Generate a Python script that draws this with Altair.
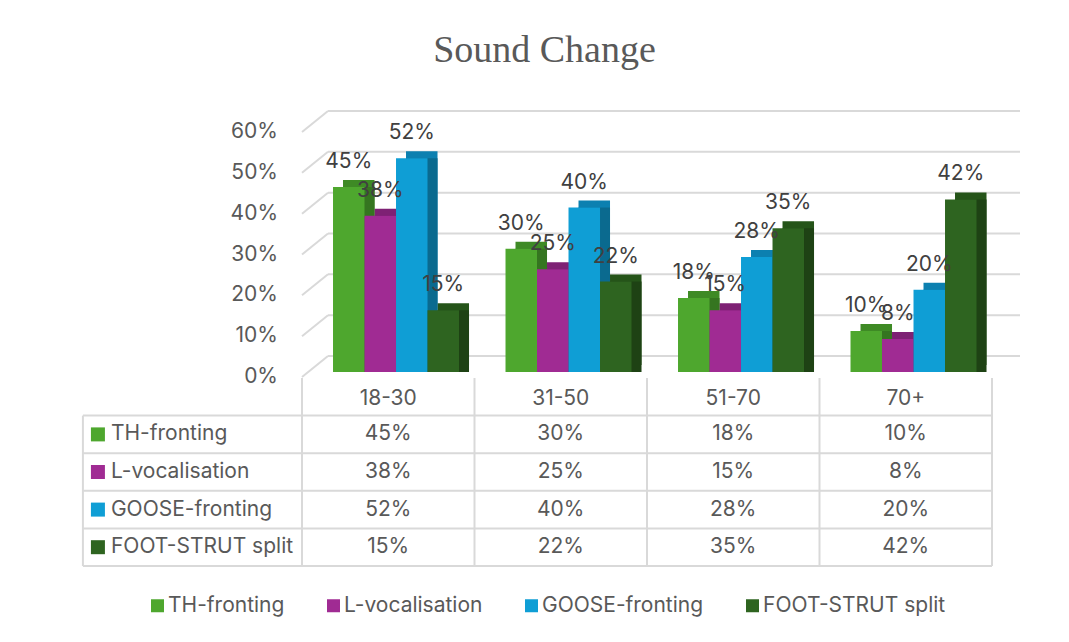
import altair as alt
import pandas as pd

# ---------------- data ----------------
categories = ["18-30", "31-50", "51-70", "70+"]
series_names = ["TH-fronting", "L-vocalisation", "GOOSE-fronting", "FOOT-STRUT split"]
th_fronting = [0.45, 0.30, 0.18, 0.10]
l_vocalisation = [0.38, 0.25, 0.15, 0.08]
goose_fronting = [0.52, 0.40, 0.28, 0.20]
foot_strut = [0.15, 0.22, 0.35, 0.42]
tick_values = [0.0, 0.1, 0.2, 0.3, 0.4, 0.5, 0.6]

# ---------------- styles ----------------
front_colors = ["#4EA72E", "#A02B93", "#0F9ED5", "#2E6420"]
top_colors = ["#3E8A25", "#7E2174", "#0C80B0", "#255419"]
side_colors = ["#357520", "#6A1A61", "#0A6A8F", "#1E4214"]
GRID = "#D9D9D9"
TXT = "#595959"
LBL = "#404040"
FONT = "Inter"
FS = 21

W, H, PAD_TOP = 1053, 556, 70
FRONT_X = [294, 984]
DEPTH_X = [304, 994]
BACK_X = [320, 1012]
BAR_Y = [294, 47.4]
TOP_Y = [287, 40.4]
SIDE_Y = [299, 54]
BACK_Y = [278, 33]
TABLE_Y = [300, 488]
LABEL_EDGE = -1.27  # left edge of the table's label column, in category widths

all_values = [th_fronting, l_vocalisation, goose_fronting, foot_strut]
rows = []
for s_i, (name, vals) in enumerate(zip(series_names, all_values)):
    for c_i, (cat, v) in enumerate(zip(categories, vals)):
        rows.append({"category": cat, "series": name, "value": v,
                     "col": c_i + 0.5, "row": s_i + 1.5})
df = pd.DataFrame(rows)
ticks_df = pd.DataFrame({"tick": tick_values})
cats_df = pd.DataFrame({"category": categories, "col": [i + 0.5 for i in range(len(categories))]})
series_df = pd.DataFrame({"series": series_names, "row": [i + 1.5 for i in range(len(series_names))]})
hlines_df = pd.DataFrame({"edge": list(range(1, len(series_names) + 2))})
vlines_df = pd.DataFrame({"edge": list(range(0, len(categories) + 1))})
one_df = pd.DataFrame({"k": [0]})
n_rows = len(series_names) + 1


def qscale(rng, domain):
    return alt.Scale(domain=domain, range=rng, nice=False, zero=False)


def xcat(rng):
    return alt.X("category:N", scale=alt.Scale(type="band", domain=categories, range=rng,
                                               paddingInner=0, paddingOuter=0), axis=None)


def xoff():
    return alt.XOffset("series:N", scale=alt.Scale(type="band", domain=series_names, paddingInner=0,
                                                   paddingOuter=0.738, align=0.667))


def yval(rng):
    return alt.Y("value:Q", scale=qscale(rng, [0, 0.6]), axis=None)


def col(rngs, legend=None):
    return alt.Color("series:N", scale=alt.Scale(domain=series_names, range=rngs), legend=legend)


xq_domain = [0, len(categories)]
ty_domain = [0, n_rows]

# back wall gridlines
back_grid = alt.Chart(ticks_df).mark_rule(color=GRID, strokeWidth=2).encode(
    x=alt.X(datum=0, type="quantitative", scale=qscale(BACK_X, xq_domain), axis=None),
    x2=alt.X2(datum=len(categories)),
    y=alt.Y("tick:Q", scale=qscale(BACK_Y, [0, 0.6]), axis=None),
)

# side wall diagonals
side_diag = alt.Chart(ticks_df).mark_rule(color=GRID, strokeWidth=2, x2Offset=26, y2Offset=-21).encode(
    x=alt.X(datum=0, type="quantitative", scale=qscale(FRONT_X, xq_domain), axis=None),
    x2=alt.X2(datum=0),
    y=alt.Y("tick:Q", scale=qscale(SIDE_Y, [0, 0.6]), axis=None),
    y2=alt.Y2("tick:Q"),
)

# y axis labels
y_labels = alt.Chart(ticks_df).mark_text(align="right", baseline="middle", dx=-24,
                                         font=FONT, fontSize=FS, color=TXT).encode(
    x=alt.X(datum=0, type="quantitative", scale=qscale(FRONT_X, xq_domain), axis=None),
    y=alt.Y("tick:Q", scale=qscale(SIDE_Y, [0, 0.6]), axis=None),
    text=alt.Text("tick:Q", format=".0%"),
)

# table lines
h_lines = alt.Chart(hlines_df).mark_rule(color=GRID, strokeWidth=2).encode(
    x=alt.X(datum=LABEL_EDGE, type="quantitative", scale=qscale(FRONT_X, xq_domain), axis=None),
    x2=alt.X2(datum=len(categories)),
    y=alt.Y("edge:Q", scale=qscale(TABLE_Y, ty_domain), axis=None),
)
v_lines = alt.Chart(vlines_df).mark_rule(color=GRID, strokeWidth=2).encode(
    x=alt.X("edge:Q", scale=qscale(FRONT_X, xq_domain), axis=None),
    y=alt.Y(datum=0, type="quantitative", scale=qscale(TABLE_Y, ty_domain), axis=None),
    y2=alt.Y2(datum=n_rows),
)
left_line = alt.Chart(one_df).mark_rule(color=GRID, strokeWidth=2).encode(
    x=alt.X(datum=LABEL_EDGE, type="quantitative", scale=qscale(FRONT_X, xq_domain), axis=None),
    y=alt.Y(datum=1, type="quantitative", scale=qscale(TABLE_Y, ty_domain), axis=None),
    y2=alt.Y2(datum=n_rows),
)

# 3D bars: top face copy, side face copy, front face
bar_top = alt.Chart(df).mark_bar().encode(
    x=xcat(DEPTH_X), xOffset=xoff(), y=yval(TOP_Y), color=col(top_colors))
bar_side = alt.Chart(df).mark_bar().encode(
    x=xcat(DEPTH_X), xOffset=xoff(), y=yval(BAR_Y), color=col(side_colors))
bar_front = alt.Chart(df).mark_bar().encode(
    x=xcat(FRONT_X), xOffset=xoff(), y=yval(BAR_Y),
    color=col(front_colors, legend=alt.Legend(
        orient="none", legendX=139, legendY=517, direction="horizontal", columns=4,
        title=None, symbolType="square", symbolSize=169, symbolStrokeWidth=0,
        labelFont=FONT, labelFontSize=FS, labelColor=TXT, labelOffset=0,
        columnPadding=38, padding=0, labelLimit=0)))

bar_labels = alt.Chart(df).mark_text(baseline="alphabetic", dy=-19, font=FONT,
                                     fontSize=FS, color=LBL).encode(
    x=xcat(FRONT_X), xOffset=xoff(), y=yval(BAR_Y),
    text=alt.Text("value:Q", format=".0%"))

# table texts
cat_labels = alt.Chart(cats_df).mark_text(baseline="middle", font=FONT, fontSize=FS, color=TXT).encode(
    x=alt.X("col:Q", scale=qscale(FRONT_X, xq_domain), axis=None),
    y=alt.Y(datum=0.55, type="quantitative", scale=qscale(TABLE_Y, ty_domain), axis=None),
    text="category:N")
table_vals = alt.Chart(df).mark_text(baseline="middle", font=FONT, fontSize=FS, color=TXT).encode(
    x=alt.X("col:Q", scale=qscale(FRONT_X, xq_domain), axis=None),
    y=alt.Y("row:Q", scale=qscale(TABLE_Y, ty_domain), axis=None),
    text=alt.Text("value:Q", format=".0%"))
row_labels = alt.Chart(series_df).mark_text(align="left", baseline="middle", dx=28,
                                            font=FONT, fontSize=FS, color=TXT).encode(
    x=alt.X(datum=LABEL_EDGE, type="quantitative", scale=qscale(FRONT_X, xq_domain), axis=None),
    y=alt.Y("row:Q", scale=qscale(TABLE_Y, ty_domain), axis=None),
    text="series:N")
row_keys = alt.Chart(series_df).mark_square(size=196, opacity=1, xOffset=15).encode(
    x=alt.X(datum=LABEL_EDGE, type="quantitative", scale=qscale(FRONT_X, xq_domain), axis=None),
    y=alt.Y("row:Q", scale=qscale(TABLE_Y, ty_domain), axis=None),
    color=col(front_colors))

chart = alt.layer(
    back_grid, side_diag, h_lines, v_lines, left_line,
    bar_top, bar_side, bar_front, bar_labels,
    y_labels, cat_labels, table_vals, row_labels, row_keys,
).resolve_scale(
    x="independent", y="independent", color="independent", xOffset="independent"
).properties(
    width=W, height=H,
    background="white",
    autosize=alt.AutoSizeParams(type="none"),
    padding={"left": 0, "top": PAD_TOP, "right": 0, "bottom": 0},
    title=alt.TitleParams("Sound Change", font="Liberation Serif", fontSize=38,
                          color=TXT, fontWeight="normal", anchor="middle",
                          baseline="alphabetic", offset=-22, dx=10),
).configure_view(stroke=None, strokeWidth=0)

chart.save("out.html", embed_options={"renderer": "svg", "actions": False})
